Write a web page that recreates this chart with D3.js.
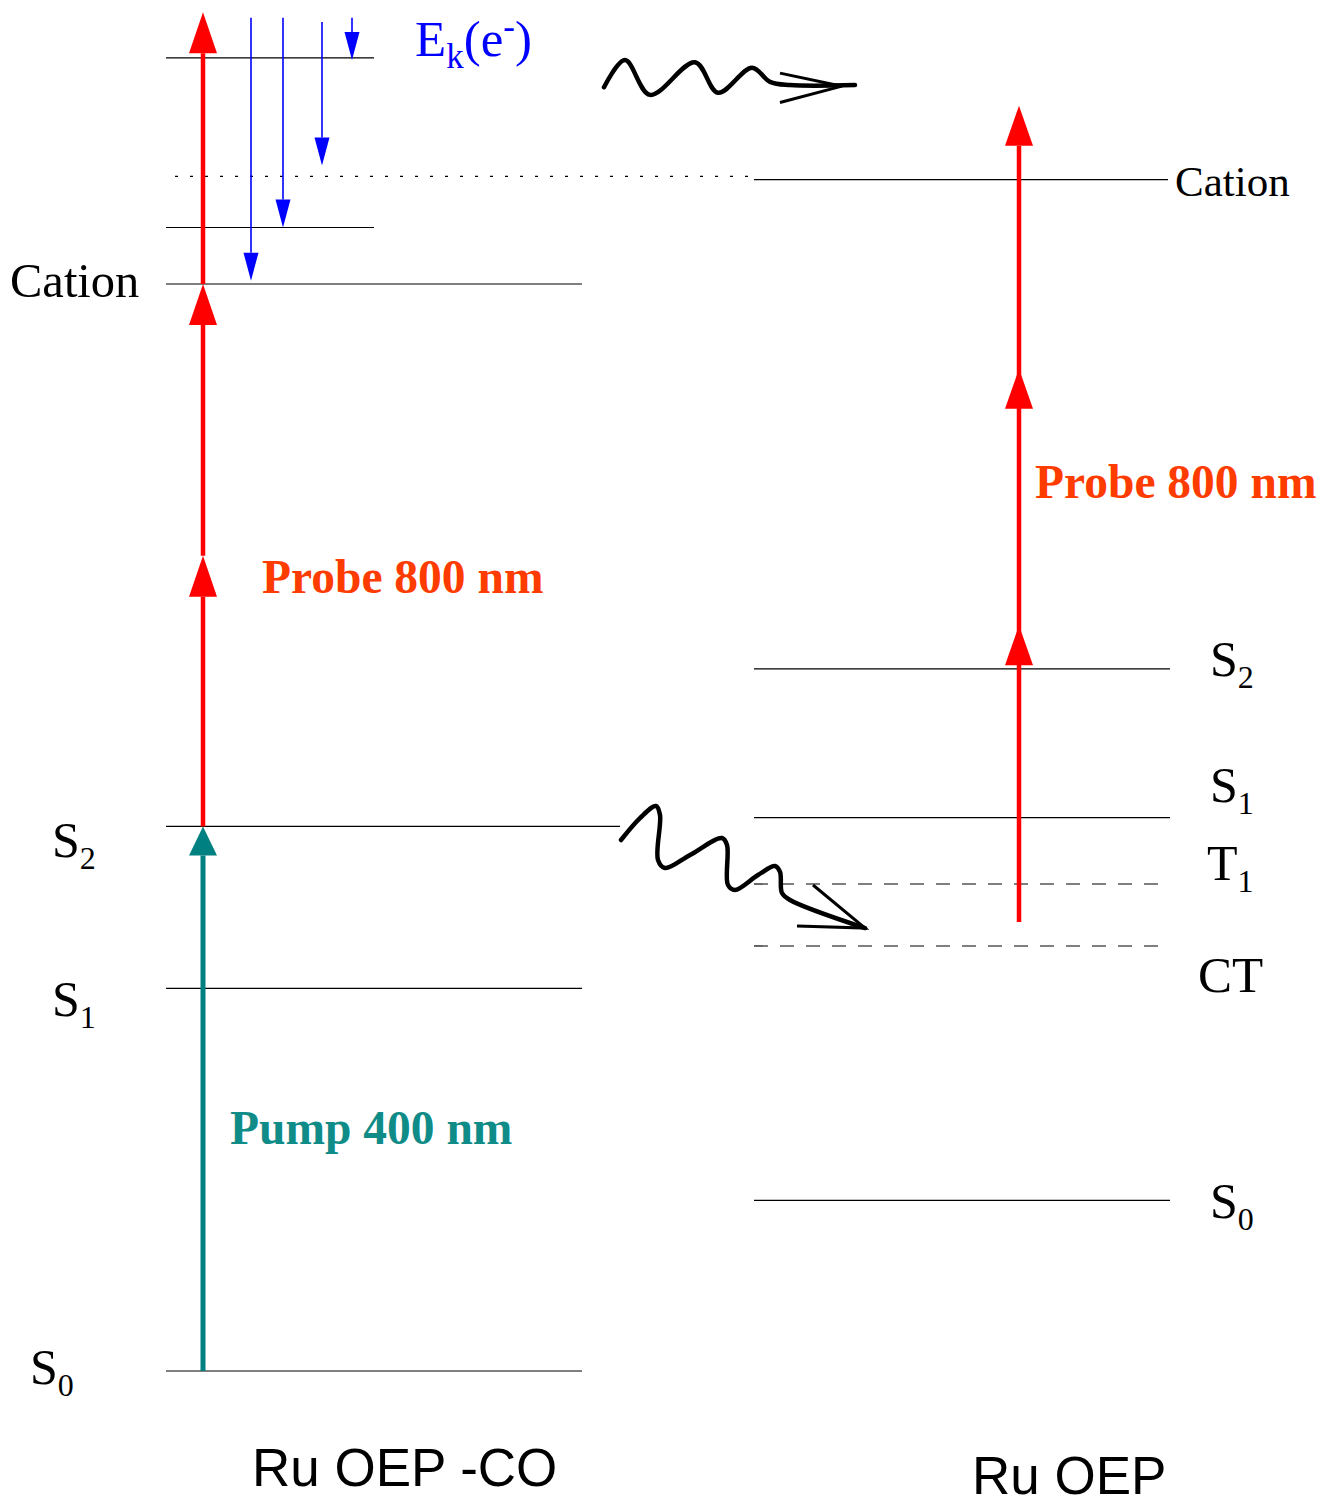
<!DOCTYPE html>
<html>
<head>
<meta charset="utf-8">
<style>
  body { margin: 0; background: #fff; }
  text { font-family: "Liberation Serif", "Times New Roman", serif; }
  .mol { font-family: "Liberation Sans", Arial, sans-serif; font-size: 53px; }
</style>
<script src="https://d3js.org/d3.v7.min.js"></script>
</head>
<body>
<div id="diagram"></div>
<script>
// energies in units of the pump-photon / 2 scale (S0 of Ru OEP-CO = 0, its cation = 1)
var leftLevels = [
  {name: "S", sub: "0", e: 0.000},
  {name: "S", sub: "1", e: 0.352},
  {name: "S", sub: "2", e: 0.501},
  {name: "Cation", sub: "", e: 1.000}
];
var ionVibLevels = [1.052, 1.208];
var ionLimitDotted = 1.099;

var rightLevels = [
  {name: "S", sub: "0", e: 0.157, dashed: false},
  {name: "CT", sub: "", e: 0.391, dashed: true},
  {name: "T", sub: "1", e: 0.448, dashed: true},
  {name: "S", sub: "1", e: 0.509, dashed: false},
  {name: "S", sub: "2", e: 0.646, dashed: false},
  {name: "Cation", sub: "", e: 1.096, dashed: false}
];

var pump = {from: 0.0, to: 0.501};
var probeLeft = [[0.501, 0.75], [0.75, 1.0], [1.0, 1.25]];
var probeRightStart = 0.413;
var probeRightHeads = [0.686, 0.922, 1.164];

// photoelectron arrows: top energy, bottom energy
var electronTop = [1.245, 1.245, 1.241, 1.245];
var electronBottom = [1.003, 1.052, 1.109, 1.206];

// hand-drawn wavy arrows, points as [x, energy]
var wavyTop = [[604,1.181],[625,1.206],[650,1.174],[695,1.204],[718,1.176],[752,1.199],[770,1.186],[790,1.183],[855,1.183]];
var wavyTopHead = [[780,1.194],[842,1.182],[780,1.167]];
var wavyLow = [[621,0.4885],[640,0.5087],[656,0.5198],[660,0.5115],[658,0.4701],[665,0.4627],[690,0.4747],[722,0.4903],[727,0.4839],[728,0.4471],[735,0.4425],[758,0.4563],[775,0.4646],[780,0.4591],[782,0.4397],[790,0.4333],[865,0.4075]];
var wavyLowHead = [[813,0.4471],[865,0.4075],[797,0.4094]];

var W = 1325, H = 1506;
var svg = d3.select("#diagram").append("svg")
  .attr("width", W).attr("height", H);

var y = d3.scaleLinear().domain([0, 1]).range([1371, 284]);

// upward/downward arrow with a filled triangle head
function arrow(x, e0, e1, color, sw, hw, hl) {
  var y0 = y(e0), y1 = y(e1);
  var dir = y1 < y0 ? 1 : -1;
  svg.append("line")
    .attr("x1", x).attr("x2", x)
    .attr("y1", y0).attr("y2", y1 + dir * hl)
    .attr("stroke", color).attr("stroke-width", sw);
  svg.append("path")
    .attr("d", "M" + x + "," + y1 + "L" + (x - hw / 2) + "," + (y1 + dir * hl) +
               "L" + (x + hw / 2) + "," + (y1 + dir * hl) + "Z")
    .attr("fill", color);
}

function subLabel(x, yb, name, sub, size, subSize) {
  var t = svg.append("text").attr("x", x).attr("y", yb)
    .attr("font-size", size).attr("fill", "#000");
  t.append("tspan").text(name);
  if (sub) t.append("tspan").attr("font-size", subSize).attr("dy", 12).text(sub);
}

// ---- left molecule (Ru OEP-CO) ----
leftLevels.forEach(function(d) {
  svg.append("line")
    .attr("x1", 166).attr("x2", d.sub === "2" ? 620 : 582)
    .attr("y1", y(d.e)).attr("y2", y(d.e))
    .attr("stroke", "#000").attr("stroke-width", 1.2);
});
ionVibLevels.forEach(function(e) {
  svg.append("line")
    .attr("x1", 166).attr("x2", 374)
    .attr("y1", y(e)).attr("y2", y(e))
    .attr("stroke", "#000").attr("stroke-width", 1.2);
});
svg.append("line")
  .attr("x1", 175).attr("x2", 755)
  .attr("y1", y(ionLimitDotted)).attr("y2", y(ionLimitDotted))
  .attr("stroke", "#000").attr("stroke-width", 1.2)
  .attr("stroke-dasharray", "3,12");

var leftPos = [
  {x: 30, yb: 1384}, {x: 52, yb: 1016}, {x: 52, yb: 857}, {x: 10, yb: 297}
];
leftLevels.forEach(function(d, i) {
  if (d.name === "Cation") {
    svg.append("text").attr("x", leftPos[i].x).attr("y", leftPos[i].yb)
      .attr("font-size", 48.5).text(d.name);
  } else {
    subLabel(leftPos[i].x, leftPos[i].yb, d.name, d.sub, 50, 32);
  }
});

arrow(203, pump.from, pump.to, "#008080", 5, 28, 29);
probeLeft.forEach(function(p) {
  arrow(203, p[0], p[1], "#ff0000", 4.5, 28, 41);
});

var electronX = [251, 283, 322, 352];
electronTop.forEach(function(e, i) {
  arrow(electronX[i], e, electronBottom[i], "#0000ff", 1.6, 15, 28);
});

var ek = svg.append("text").attr("x", 415).attr("y", 56)
  .attr("font-size", 51).attr("fill", "#0000ff");
ek.append("tspan").text("E");
ek.append("tspan").attr("font-size", 35).attr("dy", 12).text("k");
ek.append("tspan").attr("dy", -12).text("(e");
ek.append("tspan").attr("font-size", 35).attr("dy", -18).text("-");
ek.append("tspan").attr("dy", 18).text(")");

svg.append("text").attr("x", 262).attr("y", 593)
  .attr("font-size", 47.5).attr("font-weight", "bold").attr("fill", "#ff3c00")
  .text("Probe 800 nm");
svg.append("text").attr("x", 230).attr("y", 1144)
  .attr("font-size", 47.5).attr("font-weight", "bold").attr("fill", "#108c88")
  .text("Pump 400 nm");

svg.append("text").attr("class", "mol").attr("x", 252).attr("y", 1486).text("Ru OEP -CO");

// ---- right molecule (Ru OEP) ----
rightLevels.forEach(function(d) {
  svg.append("line")
    .attr("x1", 754).attr("x2", d.name === "Cation" ? 1168 : 1170)
    .attr("y1", y(d.e)).attr("y2", y(d.e))
    .attr("stroke", "#000").attr("stroke-width", 1.2)
    .attr("stroke-dasharray", d.dashed ? "14,12" : null);
});

var rightPos = [
  {x: 1210, yb: 1218}, {x: 1198, yb: 992}, {x: 1207, yb: 880},
  {x: 1210, yb: 802}, {x: 1210, yb: 676}, {x: 1175, yb: 196}
];
rightLevels.forEach(function(d, i) {
  if (d.name === "Cation" || d.name === "CT") {
    svg.append("text").attr("x", rightPos[i].x).attr("y", rightPos[i].yb)
      .attr("font-size", d.name === "CT" ? 51 : 43).text(d.name);
  } else {
    subLabel(rightPos[i].x, rightPos[i].yb, d.name, d.sub, 50, 32);
  }
});

svg.append("line")
  .attr("x1", 1019).attr("x2", 1019)
  .attr("y1", y(probeRightStart)).attr("y2", y(probeRightHeads[2]) + 40)
  .attr("stroke", "#ff0000").attr("stroke-width", 4.5);
probeRightHeads.forEach(function(e) {
  var yt = y(e);
  svg.append("path")
    .attr("d", "M1019," + yt + "L1005," + (yt + 40) + "L1033," + (yt + 40) + "Z")
    .attr("fill", "#ff0000");
});

svg.append("text").attr("x", 1035).attr("y", 498)
  .attr("font-size", 47.5).attr("font-weight", "bold").attr("fill", "#ff3c00")
  .text("Probe 800 nm");

svg.append("text").attr("class", "mol").attr("x", 972).attr("y", 1494).text("Ru OEP");

// ---- wavy arrows ----
var wline = d3.line()
  .x(function(d) { return d[0]; })
  .y(function(d) { return y(d[1]); })
  .curve(d3.curveCatmullRom.alpha(0.5));
var hline = d3.line()
  .x(function(d) { return d[0]; })
  .y(function(d) { return y(d[1]); });

[[wavyTop, wavyTopHead], [wavyLow, wavyLowHead]].forEach(function(w) {
  svg.append("path").attr("d", wline(w[0]))
    .attr("fill", "none").attr("stroke", "#000").attr("stroke-width", 4.5)
    .attr("stroke-linecap", "round").attr("stroke-linejoin", "round");
  svg.append("path").attr("d", hline(w[1]))
    .attr("fill", "none").attr("stroke", "#000").attr("stroke-width", 3);
});
</script>
</body>
</html>
